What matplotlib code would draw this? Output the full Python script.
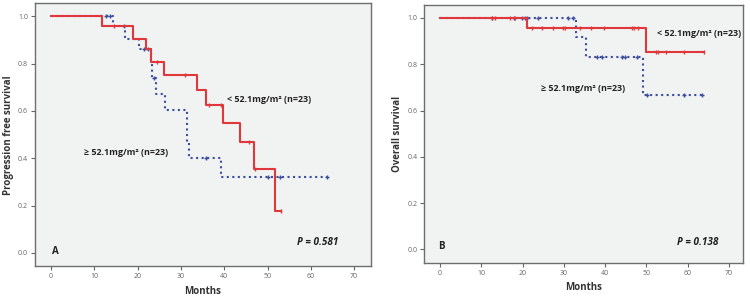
import numpy as np
import matplotlib
matplotlib.use("Agg")
import matplotlib.pyplot as plt

plt.rcParams["font.family"] = ["Open Sans", "DejaVu Sans"]

# ---- data: Kaplan-Meier steps (drop times / levels) and censor times ----
# Panel A: progression free survival
a_low_times = [0, 11.8, 18.9, 21.9, 23.2, 26.2, 33.6, 35.9, 39.6, 43.6, 46.9, 51.7]
a_low_levels = [1.0, 0.957, 0.905, 0.860, 0.807, 0.753, 0.688, 0.627, 0.547, 0.470, 0.353, 0.176]
a_low_end = 53.1
a_low_censor = [14.6, 24.4, 30.9, 36.5, 39.3, 45.8, 47.1, 53.1]

a_high_times = [0, 14.4, 17.1, 20.2, 23.1, 23.4, 24.3, 26.3, 31.3, 31.8, 39.3]
a_high_levels = [1.0, 0.957, 0.905, 0.860, 0.800, 0.738, 0.672, 0.604, 0.470, 0.403, 0.320]
a_high_end = 63.7
a_high_censor = [12.8, 13.6, 16.9, 21.5, 22.3, 23.7, 35.9, 50.2, 52.9, 63.7]

# Panel B: overall survival
b_low_times = [0, 21.0, 49.8]
b_low_levels = [1.0, 0.957, 0.852]
b_low_end = 64.0
b_low_censor = [12.5, 13.3, 16.9, 18.2, 22.2, 24.6, 27.4, 29.8, 30.4, 34.0, 36.5,
                39.7, 46.4, 47.1, 47.9, 52.3, 52.9, 54.7, 59.0, 64.0]

b_high_times = [0, 32.9, 35.4, 49.1]
b_high_levels = [1.0, 0.917, 0.833, 0.667]
b_high_end = 63.4
b_high_censor = [12.5, 18.0, 19.8, 20.5, 21.0, 23.8, 31.1, 32.1, 38.0, 39.2, 44.0,
                 44.8, 47.7, 50.1, 59.2, 63.4]

x_ticks = [0, 10, 20, 30, 40, 50, 60, 70]
y_ticks = [0.0, 0.2, 0.4, 0.6, 0.8, 1.0]

RED = "#E0383A"
BLUE = "#3C4F9E"
BG = "#F1F2F2"
FRAME = "#6E6E6E"


def level_at(times, levels, t):
    idx = np.searchsorted(times, t, side="right") - 1
    return np.array(levels)[idx]


def draw_curve(ax, times, levels, end, censor, color, ls, lw, marker, ms):
    xs = list(times) + [end]
    ys = list(levels) + [levels[-1]]
    ax.step(xs, ys, where="post", color=color, linestyle=ls, linewidth=lw)
    cy = [level_at(times, levels, t) for t in censor]
    ax.plot(censor, cy, linestyle="none", marker=marker, color=color,
            markersize=ms, markeredgewidth=1.0)


def style_axes(ax, xlim, ylim, ylabel):
    ax.set_facecolor(BG)
    ax.set_xlim(*xlim)
    ax.set_ylim(*ylim)
    ax.set_xticks(x_ticks)
    ax.set_yticks(y_ticks)
    ax.set_yticklabels([f"{v:.1f}" for v in y_ticks])
    for sp in ax.spines.values():
        sp.set_color(FRAME)
        sp.set_linewidth(1.0)
    ax.tick_params(axis="both", labelsize=5, colors="#666666", length=3,
                   width=0.8, pad=2)
    ax.set_xlabel("Months", fontsize=7, fontweight="bold", color="#333333",
                  labelpad=4)
    ax.set_ylabel(ylabel, fontsize=7, fontweight="bold", color="#333333",
                  labelpad=3)


fig = plt.figure(figsize=(7.5, 2.99), dpi=100)
fig.patch.set_facecolor("white")

ax1 = fig.add_axes([0.0467, 0.110, 0.448, 0.879])
ax2 = fig.add_axes([0.5657, 0.121, 0.425, 0.863])

# ---- Panel A ----
draw_curve(ax1, a_high_times, a_high_levels, a_high_end, a_high_censor,
           BLUE, ":", 1.5, "+", 3.5)
draw_curve(ax1, a_low_times, a_low_levels, a_low_end, a_low_censor,
           RED, "-", 1.5, "|", 3.5)
style_axes(ax1, (-3.7, 73.9), (-0.056, 1.055), "Progression free survival")

txt = dict(fontsize=6.4, fontweight="bold", color="#222222", va="center")
ax1.text(40.6, 0.649, "< 52.1mg/m\u00b2 (n=23)", **txt)
ax1.text(7.5, 0.423, "\u2265 52.1mg/m\u00b2 (n=23)", **txt)
ax1.text(0.3, 0.004, "A", fontsize=7, fontweight="bold", color="#222222",
         va="center")
ax1.text(56.7, 0.042, "P = 0.581", fontsize=7.2, fontweight="bold",
         style="italic", color="#222222", va="center")

# ---- Panel B ----
draw_curve(ax2, b_high_times, b_high_levels, b_high_end, b_high_censor,
           BLUE, ":", 1.5, "+", 3.5)
draw_curve(ax2, b_low_times, b_low_levels, b_low_end, b_low_censor,
           RED, "-", 1.5, "|", 3.5)
style_axes(ax2, (-3.8, 73.4), (-0.058, 1.057), "Overall survival")

ax2.text(52.5, 0.931, "< 52.1mg/m\u00b2 (n=23)", **txt)
ax2.text(24.4, 0.697, "\u2265 52.1mg/m\u00b2 (n=23)", **txt)
ax2.text(-0.4, 0.011, "B", fontsize=7, fontweight="bold", color="#222222",
         va="center")
ax2.text(57.3, 0.029, "P = 0.138", fontsize=7.2, fontweight="bold",
         style="italic", color="#222222", va="center")

fig.savefig("out.png", dpi=100, facecolor=fig.get_facecolor())
plt.close(fig)
